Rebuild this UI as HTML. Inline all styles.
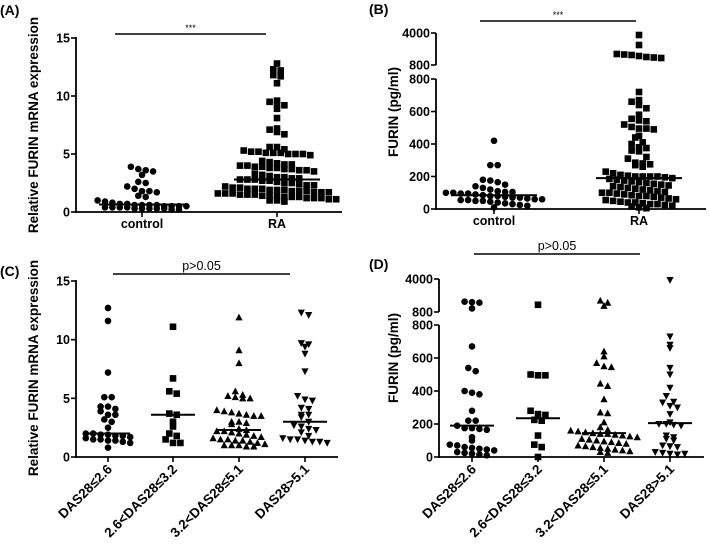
<!DOCTYPE html>
<html><head><meta charset="utf-8"><style>
body{margin:0;background:#fff;}
svg{display:block;font-family:"Liberation Sans",sans-serif;}
</style></head><body>
<svg id="fig" width="709" height="544" viewBox="0 0 709 544"></svg>
<script>
// Panel A data
const catsAB = ["control","RA"];
const aControl = [3.9,3.7,3.6,3.5,3.2,2.6,2.5,2.2,2.0,1.8,1.8,1.7,1.4,1.3,1.0,0.9,0.8,0.7,0.7,0.6,0.6,0.6,0.6,0.5,0.5,0.5,0.5,0.4,0.4,0.4,0.4,0.3,0.3,0.3,0.3,0.3,0.2,0.2];
const aRA = [12.8,12.3,12.2,11.8,11.7,11.1,9.6,9.5,9.3,9.2,8.9,8.1,7.2,7.1,6.9,6.7,5.6,5.6,5.4,5.3,5.2,5.2,5.1,5.1,5.1,5.0,5.0,5.0,4.9,4.4,4.3,4.2,4.1,4.1,4.0,4.0,3.9,3.9,3.8,3.8,3.7,3.7,3.6,3.6,3.5,3.3,3.2,3.1,3.0,3.0,2.9,2.9,2.8,2.8,2.8,2.7,2.7,2.6,2.5,2.5,2.4,2.3,2.3,2.2,2.1,2.1,2.0,2.0,2.0,1.9,1.9,1.9,1.8,1.8,1.8,1.7,1.7,1.7,1.6,1.6,1.6,1.5,1.5,1.5,1.4,1.4,1.4,1.3,1.3,1.3,1.2,1.2,1.2,1.1,1.1,1.0,1.0,0.9];
const aMedians = [0.65,2.8];
const mrnaTicks = [0,5,10,15];
// Panel B data
const bControl = [420,270,270,180,175,165,150,140,130,120,110,105,105,100,100,95,95,90,85,80,80,75,70,70,65,60,60,55,55,50,50,45,40,35,30,25,20,10];
const bRA = [3800,2800,1900,1850,1800,1700,1600,1550,1500,720,670,660,640,620,580,555,545,540,520,505,495,495,490,450,440,410,400,380,375,360,355,320,310,285,280,275,270,260,230,220,210,205,200,200,200,200,195,190,185,180,175,170,165,160,155,150,145,140,135,130,125,120,115,110,105,100,100,95,90,85,80,80,75,70,65,60,55,50,45,40,40,35,30,30,25,20,15,10,5];
const bMedians = [85,190];
const furinLowTicks = [0,200,400,600,800];
const furinHighTicks = [800,4000];
// Panel C data
const catsCD = ["DAS28≤2.6","2.6<DAS28≤3.2","3.2<DAS28≤5.1","DAS28>5.1"];
const c1 = [12.7,11.6,7.2,5.1,5.1,4.3,4.3,4.1,3.9,3.6,3.6,3.2,3.0,2.5,2.0,2.0,1.9,1.9,1.8,1.8,1.7,1.6,1.5,1.5,1.4,1.4,1.3,1.2,0.8];
const c2 = [11.1,6.7,5.6,5.4,3.7,3.6,3.0,2.6,2.0,1.8,1.5,1.2,1.2];
const c3 = [11.9,9.1,8.0,5.6,5.3,5.2,5.1,5.0,5.0,4.0,3.9,3.8,3.7,3.6,3.5,3.5,3.0,3.0,2.9,2.8,2.4,2.3,2.2,2.2,2.1,2.0,1.9,1.8,1.7,1.6,1.5,1.5,1.4,1.4,1.3,1.2,1.1,1.0,1.0,1.0,0.9,0.9];
const c4 = [12.3,12.1,9.7,9.6,9.4,8.8,7.3,5.2,4.9,4.8,4.2,4.1,3.6,3.6,3.4,3.0,2.7,2.6,2.4,2.3,2.1,1.8,1.6,1.5,1.5,1.4,1.3,1.3,1.2];
const cMedians = [2.0,3.6,2.3,3.0];
// Panel D data
const d1 = [1800,1750,1700,1150,670,540,520,400,390,380,280,220,220,190,175,175,170,165,120,100,75,70,60,55,50,45,40,30,25,20,15,10];
const d2 = [1500,500,495,495,280,260,255,225,220,130,75,60,0];
const d3 = [1900,1700,1400,640,610,570,550,545,445,430,350,270,265,210,180,165,160,155,150,145,140,140,135,130,125,120,110,105,100,95,90,85,80,70,65,60,55,50,45,40,35,30,25];
const d4 = [3900,730,680,660,540,500,420,370,335,330,310,300,260,210,200,200,195,190,130,120,110,100,70,65,60,30,25,20,15,20];
const dMedians = [190,235,145,205];

const NS="http://www.w3.org/2000/svg";
const svg=document.getElementById('fig');
function el(tag,attrs,parent,txt){const e=document.createElementNS(NS,tag);for(const k in attrs)e.setAttribute(k,attrs[k]);if(txt!==undefined)e.textContent=txt;(parent||svg).appendChild(e);return e;}

function linScale(v0,v1,p0,p1){return v=>p0+(v-v0)/(v1-v0)*(p1-p0);}
function brokenScale(y0,yBreakLow,yBreakHigh,yTop){
  return v=> v<=800 ? y0-(v/800)*(y0-yBreakLow) : yBreakHigh-((v-800)/3200)*(yBreakHigh-yTop);
}
function marker(g,shape,x,y){
  let m;
  if(shape==='circle'){m=el('circle',{cx:x,cy:y,r:3.3,fill:'#000'},g);}
  else if(shape==='square'){m=el('rect',{x:x-3.3,y:y-3.3,width:6.6,height:6.6,fill:'#000'},g);}
  else if(shape==='tri'){m=el('polygon',{points:`${x},${y-3.8} ${x-3.6},${y+3} ${x+3.6},${y+3}`,fill:'#000'},g);}
  else {m=el('polygon',{points:`${x},${y+3.8} ${x-3.6},${y-3} ${x+3.6},${y-3}`,fill:'#000'},g);}
  
  
}
function swarm(g,vals,cx,ys,shape){
  const rows={};
  vals.forEach(v=>{const py=ys(v);const k=Math.round(py/7);(rows[k]=rows[k]||[]).push(py);});
  for(const k in rows){const r=rows[k];const n=r.length;
    r.forEach((py,i)=>{marker(g,shape,cx+(i-(n-1)/2)*7.4,py);});}
}
function median(g,cx,y,hw){const l=el('line',{x1:cx-hw,x2:cx+hw,y1:y,y2:y,stroke:'#000','stroke-width':2},g);
  }
function sig(g,x1,x2,y,label,fs){el('line',{x1,x2,y1:y,y2:y,stroke:'#000','stroke-width':1.6,},g);
  el('text',{x:(x1+x2)/2,y:y-(fs>9?4:3),'text-anchor':'middle','font-size':fs,},g,label);}
function yTitle(g,x,y,t,fs){el('text',{x:0,y:0,transform:`translate(${x},${y}) rotate(-90)`,'text-anchor':'middle','font-size':fs,'font-weight':'bold',},g,t);}
function tick(g,ax,y,lab){el('line',{x1:ax-5,x2:ax,y1:y,y2:y,stroke:'#000','stroke-width':1.6},g);
  el('text',{x:ax-6,y:y+4.5,'text-anchor':'end','font-size':12.5,'font-weight':'bold',},g,lab);}
function panelLabel(x,y,t){el('text',{x,y,'font-size':14,'font-weight':'bold',},svg,t);}

// ---- Panel A
(function(){
  const g=el('g',{});
  const ax=76,y0=212,ys=linScale(0,15,212,38),xs=[142,277];
  el('line',{x1:ax,x2:ax,y1:37,y2:213,stroke:'#000','stroke-width':1.8},g);
  el('line',{x1:ax,x2:342,y1:y0,y2:y0,stroke:'#000','stroke-width':1.8},g);
  mrnaTicks.forEach(t=>tick(g,ax,ys(t),t));
  xs.forEach((x,i)=>{el('line',{x1:x,x2:x,y1:y0,y2:y0+5,stroke:'#000','stroke-width':1.6},g);
    el('text',{x,y:228,'text-anchor':'middle','font-size':12.5,'font-weight':'bold',},g,catsAB[i]);});
  swarm(g,aControl,xs[0],ys,'circle');swarm(g,aRA,xs[1],ys,'square');
  aMedians.forEach((m,i)=>median(g,xs[i],ys(m),43));
  sig(g,115,266,34,'***',9);
  yTitle(g,38,125,'Relative  FURIN mRNA expression',13.5);
})();
panelLabel(0,15,'(A)');
// ---- Panel B
(function(){
  const g=el('g',{});
  const ax=436,y0=209,ys=brokenScale(209,79,65,33),xs=[494,639];
  el('line',{x1:ax,x2:ax,y1:79,y2:210,stroke:'#000','stroke-width':1.8},g);
  el('line',{x1:ax,x2:ax,y1:33,y2:65,stroke:'#000','stroke-width':1.8},g);
  el('line',{x1:ax,x2:706,y1:y0,y2:y0,stroke:'#000','stroke-width':1.8},g);
  furinLowTicks.forEach(t=>tick(g,ax,ys(t),t));
  tick(g,ax,65,furinHighTicks[0]);tick(g,ax,33,furinHighTicks[1]);
  xs.forEach((x,i)=>{el('line',{x1:x,x2:x,y1:y0,y2:y0+5,stroke:'#000','stroke-width':1.6},g);
    el('text',{x,y:225,'text-anchor':'middle','font-size':12.5,'font-weight':'bold',},g,catsAB[i]);});
  swarm(g,bControl,xs[0],ys,'circle');swarm(g,bRA,xs[1],ys,'square');
  bMedians.forEach((m,i)=>median(g,xs[i],ys(m),43));
  sig(g,480,636,21,'***',9);
  yTitle(g,398,112,'FURIN (pg/ml)',13.5);
})();
panelLabel(369,14,'(B)');
// ---- Panel C
(function(){
  const g=el('g',{});
  const ax=76,y0=457,ys=linScale(0,15,457,281),xs=[108,173,239,305],sh=['circle','square','tri','down'];
  const data=[c1,c2,c3,c4];
  el('line',{x1:ax,x2:ax,y1:280,y2:458,stroke:'#000','stroke-width':1.8},g);
  el('line',{x1:ax,x2:338,y1:y0,y2:y0,stroke:'#000','stroke-width':1.8},g);
  mrnaTicks.forEach(t=>tick(g,ax,ys(t),t));
  xs.forEach((x,i)=>{el('line',{x1:x,x2:x,y1:y0,y2:y0+5,stroke:'#000','stroke-width':1.6},g);
    el('text',{x:0,y:0,transform:`translate(${x+5},${470}) rotate(-45)`,'text-anchor':'end','font-size':13.5,'font-weight':'bold',},g,catsCD[i]);
    swarm(g,data[i],x,ys,sh[i]);median(g,x,ys(cMedians[i]),22);});
  sig(g,113,290,274,'p>0.05',12.5);
  yTitle(g,38,368,'Relative  FURIN mRNA expression',13.5);
})();
panelLabel(0,276,'(C)');
// ---- Panel D
(function(){
  const g=el('g',{});
  const ax=439,y0=457,ys=brokenScale(457,325,312,279),xs=[472,538,604,670],sh=['circle','square','tri','down'];
  const data=[d1,d2,d3,d4];
  el('line',{x1:ax,x2:ax,y1:325,y2:458,stroke:'#000','stroke-width':1.8},g);
  el('line',{x1:ax,x2:ax,y1:279,y2:312,stroke:'#000','stroke-width':1.8},g);
  el('line',{x1:ax,x2:704,y1:y0,y2:y0,stroke:'#000','stroke-width':1.8},g);
  furinLowTicks.forEach(t=>tick(g,ax,ys(t),t));
  tick(g,ax,312,furinHighTicks[0]);tick(g,ax,279,furinHighTicks[1]);
  xs.forEach((x,i)=>{el('line',{x1:x,x2:x,y1:y0,y2:y0+5,stroke:'#000','stroke-width':1.6},g);
    el('text',{x:0,y:0,transform:`translate(${x+5},${470}) rotate(-45)`,'text-anchor':'end','font-size':13.5,'font-weight':'bold',},g,catsCD[i]);
    swarm(g,data[i],x,ys,sh[i]);median(g,x,ys(dMedians[i]),22);});
  sig(g,474,640,254,'p>0.05',12.5);
  yTitle(g,398,358,'FURIN (pg/ml)',13.5);
})();
panelLabel(369,269,'(D)');
</script>
</body></html>
